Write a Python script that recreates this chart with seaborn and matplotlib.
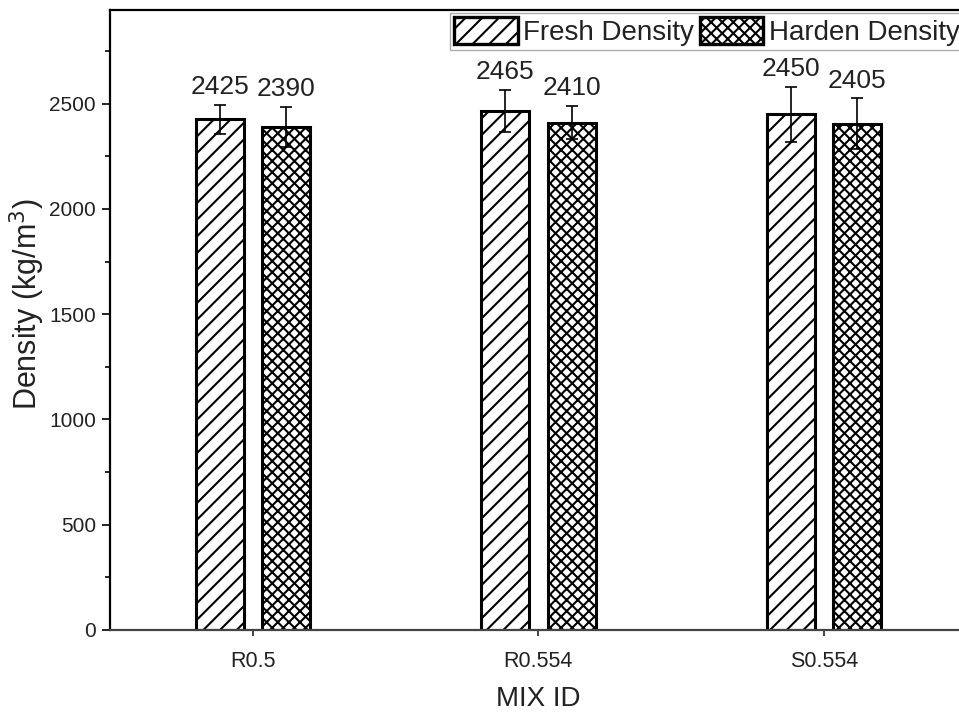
import matplotlib
matplotlib.use("Agg")
import matplotlib.pyplot as plt
import matplotlib.patches as mpatches
from matplotlib.ticker import MultipleLocator
import numpy as np
import pandas as pd
import seaborn as sns

# Measured densities for each mix
mix_ids = ["R0.5", "R0.554", "S0.554"]
series = ["Fresh Density", "Harden Density"]
fresh_density = [2425, 2465, 2450]
harden_density = [2390, 2410, 2405]
fresh_err = [70, 100, 130]
harden_err = [95, 80, 120]

df = pd.DataFrame({
    "mix": mix_ids * 2,
    "kind": [series[0]] * 3 + [series[1]] * 3,
    "density": fresh_density + harden_density,
    "err": fresh_err + harden_err,
})

sns.set_style("ticks")
plt.rcParams["font.family"] = ["Liberation Sans", "DejaVu Sans"]
plt.rcParams["hatch.linewidth"] = 1.5
text_color = "#222222"

fig = plt.figure(figsize=(9.59, 7.12), dpi=100)
ax = fig.add_axes([0.1147, 0.1152, 0.8935, 0.8708])

hatches = {series[0]: "//", series[1]: "xxx"}

sns.barplot(data=df, x="mix", y="density", hue="kind", order=mix_ids,
            hue_order=series, errorbar=None, width=0.464, gap=0.276,
            palette=["white", "white"], edgecolor="black", linewidth=2.2,
            legend=False, ax=ax)

# Bars are drawn hue by hue, so the first three are Fresh and the next three Harden
bars = [p for p in ax.patches if isinstance(p, mpatches.Rectangle) and p.get_width() > 0]
for i, bar in enumerate(bars[:6]):
    kind = series[i // 3]
    bar.set_hatch(hatches[kind])
    bar.set_facecolor("white")
    bar.set_edgecolor("black")
    val = df["density"].iloc[i]
    err = df["err"].iloc[i]
    xc = bar.get_x() + bar.get_width() / 2
    ax.errorbar(xc, val, yerr=err, fmt="none", ecolor="black",
                elinewidth=1.2, capsize=4.5, capthick=1.2, zorder=5)
    ax.annotate(f"{val}", xy=(xc, val + err), xytext=(0, 4),
                textcoords="offset points", ha="center", va="bottom",
                fontsize=19, color=text_color)

ax.set_xlim(-0.5, 2.5)
ax.set_ylim(0, 2945)
ax.yaxis.set_major_locator(MultipleLocator(500))
ax.yaxis.set_minor_locator(MultipleLocator(250))

ax.set_xlabel("MIX ID", fontsize=20, color=text_color, labelpad=10)
ax.set_ylabel("Density (kg/m$^3$)", fontsize=22, color=text_color)
ax.yaxis.set_label_coords(-0.074, 0.526)

for side in ["left", "top", "bottom", "right"]:
    ax.spines[side].set_visible(True)
    ax.spines[side].set_linewidth(1.6)
    ax.spines[side].set_color("black")
ax.spines["bottom"].set_color("#444444")

ax.tick_params(axis="y", which="major", direction="out", length=6, width=1.4,
               labelsize=15, labelcolor=text_color, pad=4)
ax.tick_params(axis="y", which="minor", direction="out", length=3.5, width=1.4)
ax.tick_params(axis="x", which="major", direction="out", length=4, width=1.2,
               labelsize=15.5, labelcolor=text_color, pad=11)

handles = [
    mpatches.Patch(facecolor="white", edgecolor="black", linewidth=2.4,
                   hatch=hatches[s], label=s) for s in series
]
leg = ax.legend(handles=handles, loc="upper right", bbox_to_anchor=(1.0, 1.0),
                ncol=2, fontsize=20, frameon=True, fancybox=False,
                handlelength=2.3, handleheight=1.15, handletextpad=0.2,
                columnspacing=0.2, borderpad=0.15, borderaxespad=0.1)
leg.get_frame().set_edgecolor("#999999")
leg.get_frame().set_linewidth(1.0)
for t in leg.get_texts():
    t.set_color(text_color)

fig.savefig("out.png", dpi=100)
